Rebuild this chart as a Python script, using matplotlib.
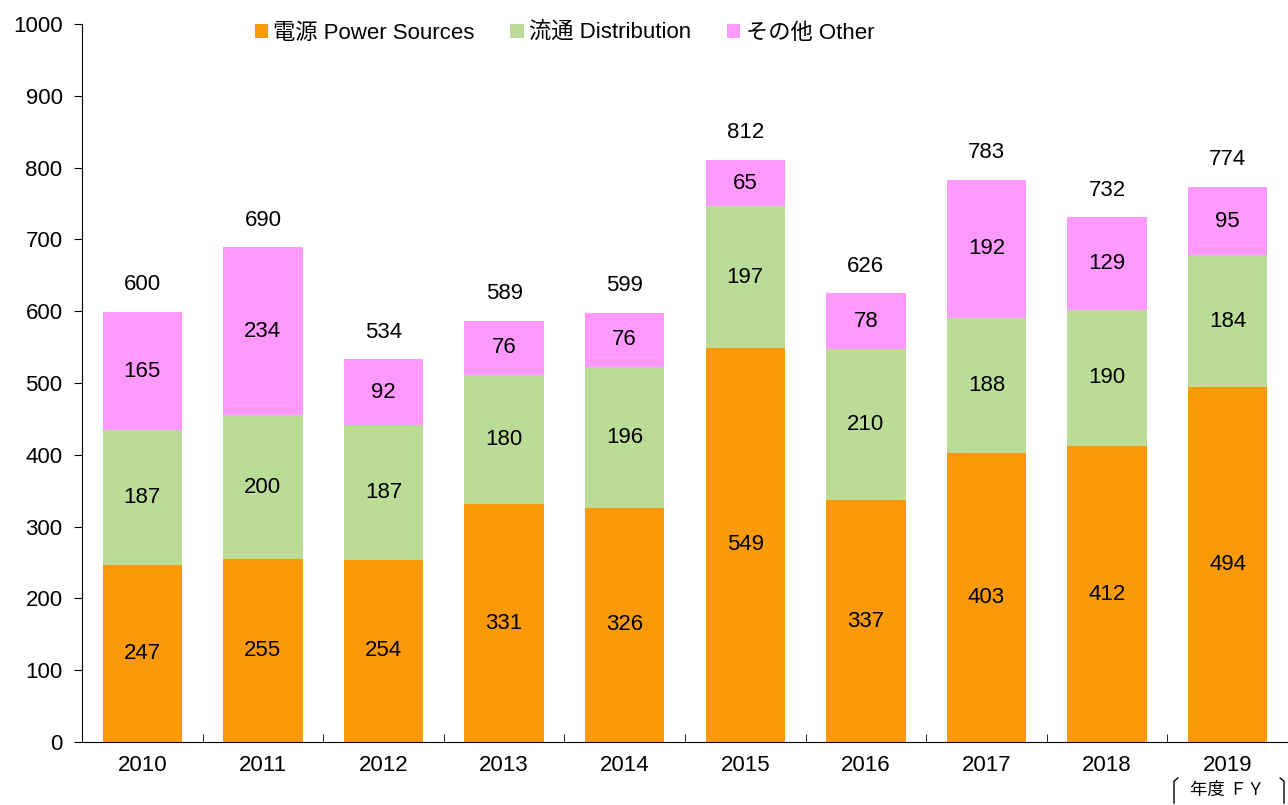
import numpy as np
import matplotlib.pyplot as plt
from matplotlib.lines import Line2D

plt.rcParams['font.family'] = ['Liberation Sans', 'Noto Sans CJK JP', 'DejaVu Sans']

years = ['2010', '2011', '2012', '2013', '2014', '2015', '2016', '2017', '2018', '2019']
power = [247, 255, 254, 331, 326, 549, 337, 403, 412, 494]
distribution = [187, 200, 187, 180, 196, 197, 210, 188, 190, 184]
other = [165, 234, 92, 76, 76, 65, 78, 192, 129, 95]
totals = [600, 690, 534, 589, 599, 812, 626, 783, 732, 774]

series_names = ['電源 Power Sources', '流通 Distribution', 'その他 Other']
colors = ['#FA9A0A', '#BBDC96', '#FF99FF']

fig = plt.figure(figsize=(12.88, 8.05), dpi=100)
ax = fig.add_axes([82/1288, 1-742/805, 1-82/1288, (742-24)/805])

x = np.arange(len(years))
w = 0.66
bottom = np.zeros(len(years))
for vals, col, name in zip([power, distribution, other], colors, series_names):
    vals = np.array(vals)
    ax.bar(x, vals, w, bottom=bottom, color=col, label=name, zorder=2)
    for xi, b, v in zip(x, bottom, vals):
        ax.text(xi, b + v/2, str(v), ha='center', va='center', fontsize=16, color='black')
    bottom += vals

for xi, b, t in zip(x, bottom, totals):
    ax.annotate(str(t), (xi, b), xytext=(0, 27), textcoords='offset pixels',
                ha='center', va='center', fontsize=16)

ax.set_xlim(-0.5, len(years) - 0.5)
ax.set_ylim(0, 1000)
ax.set_yticks(range(0, 1001, 100))
ax.tick_params(axis='y', direction='out', length=6, labelsize=16, pad=8)
ax.set_xticks(x)
ax.set_xticklabels(years, fontsize=16)
ax.tick_params(axis='x', length=0, pad=9)
# inward ticks between categories
ax.set_xticks(np.arange(0.5, len(years) - 0.5, 1), minor=True)
ax.tick_params(axis='x', which='minor', direction='in', length=6)
for s in ['top', 'right']:
    ax.spines[s].set_visible(False)

ax.legend(loc='upper center', bbox_to_anchor=(0.40, 1.03), ncol=3, frameon=False,
          fontsize=16, handlelength=0.6, handleheight=0.6, handletextpad=0.25,
          columnspacing=1.6)

# unit label with brackets
fig.text(1227/1288, 1-790/805, '年度 ＦＹ', ha='center', va='center', fontsize=12.5)
xl, xr = 1174/1288, 1284/1288
yt, yb = 1-778/805, 1-803/805
for xx, d in [(xl, 1), (xr, -1)]:
    fig.add_artist(Line2D([xx + d*0.003, xx, xx],
                          [yt, yt - 0.004, yb], color='black', lw=1,
                          transform=fig.transFigure))

fig.savefig('out.png', dpi=100)
